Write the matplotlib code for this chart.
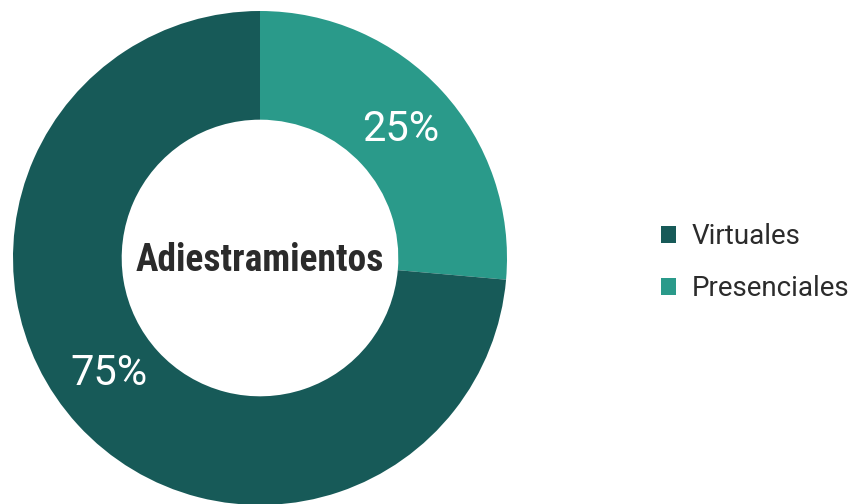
import matplotlib
matplotlib.use('Agg')
import numpy as np
import matplotlib.pyplot as plt
from matplotlib.patches import Patch

# data
categories = ['Virtuales', 'Presenciales']
shares = [73.6, 26.4]
pct_labels = ['75%', '25%']
colors = ['#175a58', '#2a9a8a']
center_title = 'Adiestramientos'

fig = plt.figure(figsize=(8.53, 5.04), dpi=100)
ax = fig.add_axes([13 / 853, -1 / 504, 494 / 853, 494 / 504])

# counterclock=False so Presenciales starts at 12 o'clock going clockwise
wedges, texts = ax.pie(shares[::-1], colors=colors[::-1], startangle=90, counterclock=False,
                       radius=1, wedgeprops=dict(width=0.44, edgecolor='none'),
                       labels=pct_labels[::-1], labeldistance=0.77,
                       textprops=dict(color='white', fontsize=30, family='Roboto',
                                      ha='center', va='center'))
ax.set_xlim(-1, 1)
ax.set_ylim(-1, 1)
ax.set_aspect('equal')

# nudge the big label a little like the original
x, y = texts[1].get_position()
ang = np.arctan2(y, x) - np.deg2rad(5)
r = np.hypot(x, y)
texts[1].set_position((r * np.cos(ang), r * np.sin(ang)))

ax.text(0, -0.01, center_title, ha='center', va='center', fontsize=27, fontweight='bold',
        family=['Roboto Condensed', 'Roboto'], color='#2b2b2b')

handles = [Patch(facecolor=c, edgecolor='none') for c in colors]
fig.legend(handles, categories, loc='center left', bbox_to_anchor=(647 / 853, 1 - 263 / 504),
           frameon=False, borderpad=0, handlelength=0.55, handleheight=0.55, handletextpad=0.55,
           labelspacing=0.9, prop=dict(family='Roboto', size=20), labelcolor='#2b2b2b')

fig.savefig('out.png', dpi=100)
